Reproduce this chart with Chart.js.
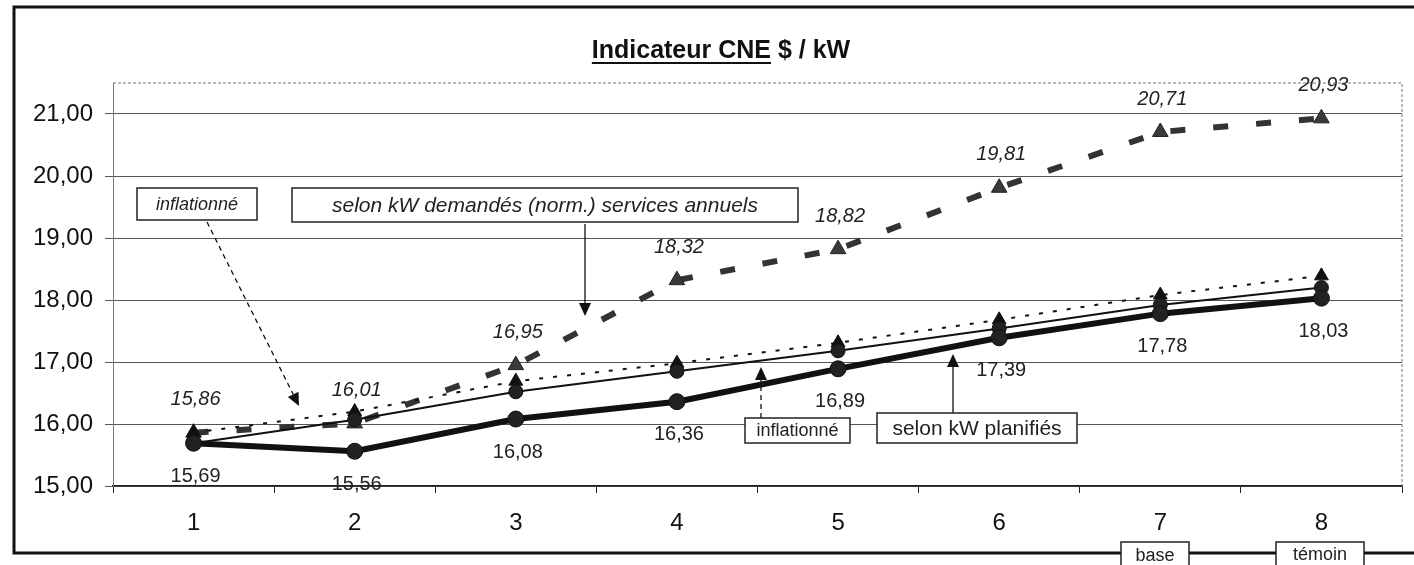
<!DOCTYPE html>
<html>
<head>
<meta charset="utf-8">
<title>Indicateur CNE $ / kW</title>
<script src="https://cdn.jsdelivr.net/npm/chart.js@4.4.1/dist/chart.umd.min.js"></script>
<style>
  html, body { margin: 0; padding: 0; background: #fff; }
  #wrap { width: 1414px; height: 565px; }
</style>
</head>
<body>
<div id="wrap"><canvas id="cne" width="1414" height="565"></canvas></div>
<script>
// données
const annees = ['1', '2', '3', '4', '5', '6', '7', '8'];
const demandesInfl = [15.86, 16.01, 16.95, 18.32, 18.82, 19.81, 20.71, 20.93];
const demandes = [15.69, 16.07, 16.52, 16.85, 17.18, 17.54, 17.92, 18.20];
const planifiesInfl = [15.86, 16.20, 16.69, 16.98, 17.31, 17.68, 18.08, 18.39];
const planifies = [15.69, 15.56, 16.08, 16.36, 16.89, 17.39, 17.78, 18.03];
const yTicks = [15, 16, 17, 18, 19, 20, 21];
const yTickLabels = ['15,00', '16,00', '17,00', '18,00', '19,00', '20,00', '21,00'];

const FONT = '"Liberation Sans", Arial, sans-serif';
Chart.defaults.font.family = FONT;
const virgule = v => v.toFixed(2).replace('.', ',');

function fleche(ctx, x1, y1, x2, y2, pointille) {
    const ang = Math.atan2(y2 - y1, x2 - x1);
    const L = 13, W = 6;
    const bx = x2 - L * Math.cos(ang), by = y2 - L * Math.sin(ang);
    ctx.save();
    ctx.strokeStyle = '#111';
    ctx.fillStyle = '#111';
    ctx.lineWidth = 1.3;
    ctx.setLineDash(pointille ? [5, 4] : []);
    ctx.beginPath();
    ctx.moveTo(x1, y1);
    ctx.lineTo(bx, by);
    ctx.stroke();
    ctx.setLineDash([]);
    ctx.beginPath();
    ctx.moveTo(x2, y2);
    ctx.lineTo(bx + W * Math.sin(ang), by - W * Math.cos(ang));
    ctx.lineTo(bx - W * Math.sin(ang), by + W * Math.cos(ang));
    ctx.closePath();
    ctx.fill();
    ctx.restore();
}

function boite(ctx, x, y, w, h, texte, font, ty) {
    ctx.save();
    ctx.fillStyle = '#fff';
    ctx.fillRect(x, y, w, h);
    ctx.strokeStyle = '#222';
    ctx.lineWidth = 1.5;
    ctx.strokeRect(x, y, w, h);
    ctx.fillStyle = '#222';
    ctx.font = font;
    ctx.textAlign = 'center';
    ctx.textBaseline = 'middle';
    ctx.fillText(texte, x + w / 2, ty !== undefined ? ty : y + h / 2 + 1);
    ctx.restore();
}

// étiquettes de valeurs (au-dessus pour la série inflationnée, en dessous pour planifiés)
const etiquettes = {
    id: 'etiquettes',
    afterDatasetsDraw(chart) {
        const ctx = chart.ctx;
        ctx.save();
        ctx.fillStyle = '#222';
        ctx.textAlign = 'center';
        ctx.textBaseline = 'middle';
        chart.getDatasetMeta(0).data.forEach((pt, i) => {
            ctx.font = 'italic 20px ' + FONT;
            ctx.fillText(virgule(demandesInfl[i]), pt.x + 2, pt.y - 33);
        });
        chart.getDatasetMeta(3).data.forEach((pt, i) => {
            ctx.font = '20px ' + FONT;
            ctx.fillText(virgule(planifies[i]), pt.x + 2, pt.y + 33);
        });
        ctx.restore();
    }
};

const habillage = {
    id: 'habillage',
    afterDraw(chart) {
        const ctx = chart.ctx;
        const a = chart.chartArea;

        // bord de la zone de traçage
        ctx.save();
        ctx.strokeStyle = '#777';
        ctx.lineWidth = 1;
        ctx.setLineDash([3, 2]);
        ctx.beginPath();
        ctx.moveTo(a.left, a.top);
        ctx.lineTo(a.right, a.top);
        ctx.lineTo(a.right, a.bottom);
        ctx.stroke();
        ctx.restore();

        // titre
        ctx.save();
        ctx.fillStyle = '#111';
        ctx.font = 'bold 25px ' + FONT;
        ctx.textBaseline = 'alphabetic';
        const t1 = 'Indicateur CNE';
        const t2 = ' $ / kW';
        const w1 = ctx.measureText(t1).width;
        const w2 = ctx.measureText(t2).width;
        const x0 = 721 - (w1 + w2) / 2;
        ctx.fillText(t1, x0, 58);
        ctx.fillText(t2, x0 + w1, 58);
        ctx.fillRect(x0, 62, w1, 2);
        ctx.restore();

        // flèches
        fleche(ctx, 207, 222, 299, 406, true);
        fleche(ctx, 585, 224, 585, 316, false);
        fleche(ctx, 761, 418, 761, 367, true);
        fleche(ctx, 953, 413, 953, 354, false);

        // boîtes de commentaires
        boite(ctx, 137, 188, 120, 32, 'inflationné', 'italic 18px ' + FONT);
        boite(ctx, 292, 188, 506, 34, 'selon kW demandés (norm.) services annuels', 'italic 21px ' + FONT);
        boite(ctx, 745, 418, 105, 25, 'inflationné', '18px ' + FONT);
        boite(ctx, 877, 413, 200, 30, 'selon kW planifiés', '21px ' + FONT);

        // cadre du graphique
        ctx.save();
        ctx.strokeStyle = '#111';
        ctx.lineWidth = 3;
        ctx.strokeRect(14, 7, 1420, 546);
        ctx.restore();

        boite(ctx, 1121, 542, 68, 30, 'base', '18px ' + FONT, 556);
        boite(ctx, 1276, 542, 88, 30, 'témoin', '18px ' + FONT, 555);
    }
};

new Chart(document.getElementById('cne'), {
    type: 'line',
    data: {
        labels: annees,
        datasets: [
            {
                label: 'selon kW demandés (norm.) services annuels - inflationné',
                data: demandesInfl,
                borderColor: '#333',
                borderWidth: 6,
                borderDash: [15, 28],
                borderCapStyle: 'butt',
                pointStyle: 'triangle',
                pointRadius: 9,
                pointBackgroundColor: '#3a3a3a',
                pointBorderColor: '#222',
                pointBorderWidth: 1,
                tension: 0,
                order: 3
            },
            {
                label: 'selon kW demandés (norm.) services annuels',
                data: demandes,
                borderColor: '#111',
                borderWidth: 2,
                pointStyle: 'circle',
                pointRadius: 7,
                pointBackgroundColor: '#222',
                pointBorderColor: '#111',
                pointBorderWidth: 1,
                tension: 0,
                order: 1
            },
            {
                label: 'selon kW planifiés - inflationné',
                data: planifiesInfl,
                borderColor: '#111',
                borderWidth: 2,
                borderDash: [4, 10],
                pointStyle: 'triangle',
                pointRadius: 8,
                pointBackgroundColor: '#111',
                pointBorderColor: '#111',
                pointBorderWidth: 1,
                tension: 0,
                order: 2
            },
            {
                label: 'selon kW planifiés',
                data: planifies,
                borderColor: '#111',
                borderWidth: 6,
                pointStyle: 'circle',
                pointRadius: 8,
                pointBackgroundColor: '#222',
                pointBorderColor: '#111',
                pointBorderWidth: 1,
                tension: 0,
                order: 0
            }
        ]
    },
    options: {
        responsive: false,
        devicePixelRatio: 1,
        animation: false,
        layout: { padding: { left: 0, right: 12, top: 83, bottom: 0 } },
        plugins: {
            legend: { display: false },
            tooltip: { enabled: false },
            title: { display: false }
        },
        scales: {
            x: {
                offset: true,
                grid: { offset: true, drawOnChartArea: false, drawTicks: true, tickLength: 7, color: '#222' },
                border: { display: true, color: '#222', width: 1.5 },
                ticks: { color: '#111', font: { size: 24 }, padding: 16, autoSkip: false, maxRotation: 0 },
                afterFit: s => { s.height = 79; }
            },
            y: {
                min: 15,
                max: 21.5,
                afterBuildTicks: s => { s.ticks = yTicks.map(v => ({ value: v })); },
                ticks: {
                    color: '#111',
                    font: { size: 24 },
                    padding: 12,
                    callback: v => { const k = yTicks.indexOf(v); return k >= 0 ? yTickLabels[k] : ''; }
                },
                grid: { color: '#555', lineWidth: 1, tickLength: 8 },
                border: { display: true, color: '#777' },
                afterFit: s => { s.width = 113; }
            }
        }
    },
    plugins: [etiquettes, habillage]
});
</script>
</body>
</html>
